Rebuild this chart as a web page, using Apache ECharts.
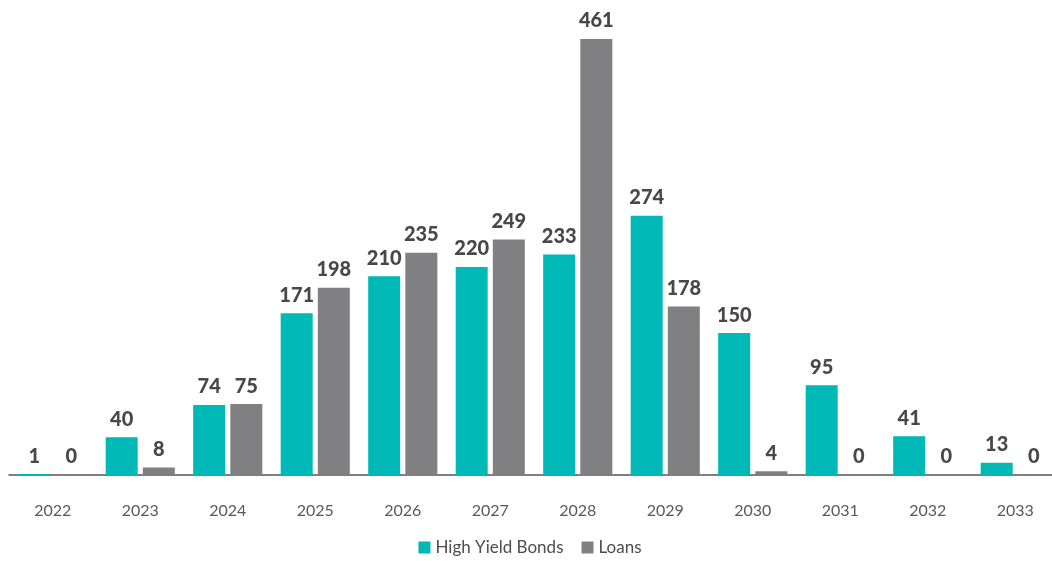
<!DOCTYPE html>
<html>
<head>
<meta charset="utf-8">
<script src="https://cdn.jsdelivr.net/npm/echarts@6/dist/echarts.min.js"></script>
<style>
html,body{margin:0;padding:0;background:#fff;overflow:hidden;width:1052px;height:561px;}
#chart{width:1060px;height:561px;}
</style>
</head>
<body>
<div id="chart"></div>
<script>
const years = ['2022','2023','2024','2025','2026','2027','2028','2029','2030','2031','2032','2033'];
const highYieldBonds = [1, 40, 74, 171, 210, 220, 233, 274, 150, 95, 41, 13];
const loans = [0, 8, 75, 198, 235, 249, 461, 178, 4, 0, 0, 0];

const chart = echarts.init(document.getElementById('chart'), null, {renderer: 'canvas'});
const labelStyle = {
  show: true,
  position: 'top',
  distance: 8,
  color: '#48484a',
  fontFamily: 'Lato',
  fontWeight: 900,
  fontSize: 20
};
chart.setOption({
  animation: false,
  grid: {left: 9, right: 1, top: 2, bottom: 86, containLabel: false},
  legend: {
    bottom: 0,
    left: 'center',
    itemWidth: 12,
    itemHeight: 12,
    itemGap: 18,
    icon: 'rect',
    textStyle: {color: '#4d4d4f', fontFamily: 'Lato', fontSize: 17},
    data: ['High Yield Bonds', 'Loans']
  },
  xAxis: {
    type: 'category',
    data: years,
    axisTick: {show: false},
    axisLine: {lineStyle: {color: '#555558', width: 1.5}},
    axisLabel: {color: '#59595b', fontFamily: 'Lato', fontSize: 16, margin: 28}
  },
  yAxis: {
    type: 'value',
    min: 0,
    max: 500,
    show: false,
    splitLine: {show: false}
  },
  series: [
    {
      name: 'High Yield Bonds',
      type: 'bar',
      data: highYieldBonds,
      barWidth: 32,
      barGap: '16%',
      itemStyle: {color: '#00b8b5'},
      label: labelStyle
    },
    {
      name: 'Loans',
      type: 'bar',
      data: loans,
      barWidth: 32,
      itemStyle: {color: '#808083'},
      label: labelStyle
    }
  ]
});
</script>
</body>
</html>
